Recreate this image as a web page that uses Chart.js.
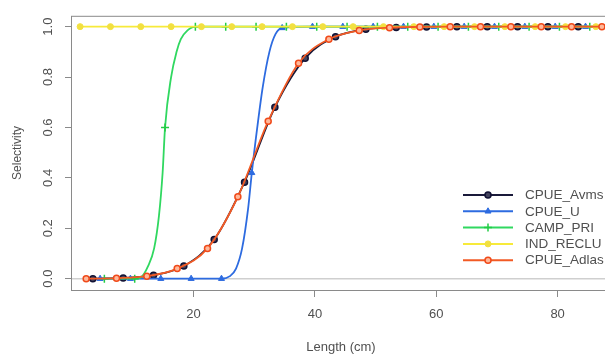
<!DOCTYPE html>
<html>
<head>
<meta charset="utf-8">
<script src="https://cdn.jsdelivr.net/npm/chart.js@4.4.0/dist/chart.umd.min.js"></script>
<style>
html, body { margin: 0; padding: 0; background: #fff; overflow: hidden; }
#wrap { width: 605px; height: 358px; overflow: hidden; }
#box { width: 625px; height: 358px; }
</style>
</head>
<body>
<div id="wrap"><div id="box"><canvas id="chart"></canvas></div></div>
<script>
// tick labels
const xTicks = [20, 40, 60, 80];
const yTicks = [0, 0.2, 0.4, 0.6, 0.8, 1.0];

// CPUE_Avms (markers)
const avmsLen = [3.4, 8.4, 13.4, 18.4, 23.4, 28.4, 33.4, 38.4, 43.4, 48.4, 53.4, 58.4, 63.4, 68.4, 73.4, 78.4, 83.4, 88.4];
const avmsSel = [0, 0.003, 0.014, 0.05, 0.155, 0.383, 0.68, 0.875, 0.96, 0.99, 0.997, 0.999, 1, 1, 1, 1, 1, 1];

// CPUE_U (markers + extra readings along the curve)
const uLen = [4.6, 9.6, 14.6, 19.6, 24.6, 29.6, 34.6, 39.6, 44.6, 49.6, 54.6, 59.6, 64.6, 69.6, 74.6, 79.6, 84.6];
const uSel = [0, 0, 0, 0, 0, 0.42, 0.995, 1, 1, 1, 1, 1, 1, 1, 1, 1, 1];
const uCurveLen = [26, 27, 28, 29, 30.5, 31.4, 32.5, 33.5];
const uCurveSel = [0.01, 0.04, 0.12, 0.28, 0.6, 0.76, 0.9, 0.97];

// CAMP_PRI
const priLen = [5.3, 10.3, 15.3, 20.3, 25.3, 30.3, 35.3, 40.3, 45.3, 50.3, 55.3, 60.3, 65.3, 70.3, 75.3, 80.3, 85.3];
const priSel = [0, 0, 0.6, 1, 1, 1, 1, 1, 1, 1, 1, 1, 1, 1, 1, 1, 1];
const priCurveLen = [11.3, 12.5, 13.5, 14.3, 14.9, 16.3, 17.2, 17.9, 19];
const priCurveSel = [0.005, 0.05, 0.12, 0.25, 0.42, 0.8, 0.9, 0.95, 0.985];

// IND_RECLU
const recluLen = [1.3, 6.3, 11.3, 16.3, 21.3, 26.3, 31.3, 36.3, 41.3, 46.3, 51.3, 56.3, 61.3, 66.3, 71.3, 76.3, 81.3, 86.3];
const recluSel = [1, 1, 1, 1, 1, 1, 1, 1, 1, 1, 1, 1, 1, 1, 1, 1, 1, 1];

// CPUE_Adlas
const adlasLen = [2.3, 7.3, 12.3, 17.3, 22.3, 27.3, 32.3, 37.3, 42.3, 47.3, 52.3, 57.3, 62.3, 67.3, 72.3, 77.3, 82.3, 87.3];
const adlasSel = [0, 0.002, 0.01, 0.04, 0.12, 0.325, 0.625, 0.855, 0.95, 0.985, 0.996, 0.999, 1, 1, 1, 1, 1, 1];

const legendNames = ["CPUE_Avms", "CPUE_U", "CAMP_PRI", "IND_RECLU", "CPUE_Adlas"];

function buildSeries(lens, sels, extraLens, extraSels) {
    const pts = lens.map((x, i) => ({ x: x, y: sels[i], m: true }));
    (extraLens || []).forEach((x, i) => pts.push({ x: x, y: extraSels[i], m: false }));
    return pts.sort((a, b) => a.x - b.x);
}

function series(label, data, line, style, radius, bg, border, bw) {
    return {
        label: label,
        data: data,
        borderColor: line,
        borderWidth: 1.8,
        cubicInterpolationMode: "monotone",
        pointStyle: style,
        pointRadius: ctx => (ctx.raw && ctx.raw.m ? radius : 0),
        pointBackgroundColor: bg,
        pointBorderColor: border,
        pointBorderWidth: bw,
        legendRadius: radius,
        clip: false
    };
}

// drawn last = on top, so the first dataset here is the top one
const datasets = [
    series("CPUE_Adlas", buildSeries(adlasLen, adlasSel), "#f25a24", "circle", 3, "#ffb89a", "#f04a1a", 1.5),
    series("IND_RECLU", buildSeries(recluLen, recluSel), "#f7ea3a", "circle", 3, "#f2e040", "#f2e040", 1),
    series("CAMP_PRI", buildSeries(priLen, priSel, priCurveLen, priCurveSel), "#30d860", "cross", 4, "#22cc44", "#22cc44", 1.5),
    series("CPUE_U", buildSeries(uLen, uSel, uCurveLen, uCurveSel), "#2d6be0", "triangle", 3.5, "#2d6be0", "#2d6be0", 1),
    series("CPUE_Avms", buildSeries(avmsLen, avmsSel), "#1a1a3a", "circle", 3, "#44445e", "#111133", 1.5)
];

const frameColor = "#8a8a8a";
const textColor = "#505050";

const framePlugin = {
    id: "frame",
    beforeDatasetsDraw(chart) {
        const c = chart.ctx;
        const a = chart.chartArea;
        const y0 = chart.scales.y.getPixelForValue(0);
        c.save();
        c.strokeStyle = "#cfcfcf";
        c.lineWidth = 1.5;
        c.beginPath();
        c.moveTo(a.left, y0);
        c.lineTo(a.right, y0);
        c.stroke();
        c.strokeStyle = frameColor;
        c.lineWidth = 1;
        c.strokeRect(a.left + 0.5, a.top + 0.5, a.right - a.left, a.bottom - a.top);
        c.restore();
    }
};

const legendPlugin = {
    id: "rLegend",
    afterDatasetsDraw(chart) {
        const c = chart.ctx;
        c.save();
        legendNames.forEach((name, i) => {
            const ds = chart.data.datasets.find(d => d.label === name);
            const y = 195 + i * 16.3;
            c.strokeStyle = ds.borderColor;
            c.lineWidth = 2;
            c.beginPath();
            c.moveTo(463, y);
            c.lineTo(513, y);
            c.stroke();
            c.fillStyle = ds.pointBackgroundColor;
            c.strokeStyle = ds.pointBorderColor;
            c.lineWidth = ds.pointBorderWidth;
            Chart.helpers.drawPoint(c, {
                pointStyle: ds.pointStyle,
                radius: ds.legendRadius,
                rotation: 0,
                borderWidth: ds.pointBorderWidth
            }, 488, y);
            c.fillStyle = textColor;
            c.font = "13.5px 'Liberation Sans', Arial, sans-serif";
            c.textBaseline = "middle";
            c.textAlign = "left";
            c.fillText(name, 525, y + 0.5);
        });
        c.restore();
    }
};

new Chart(document.getElementById("chart"), {
    type: "line",
    data: { datasets: datasets },
    options: {
        responsive: true,
        maintainAspectRatio: false,
        animation: false,
        layout: { padding: { top: 11, left: 0, right: 14, bottom: 0 } },
        plugins: { legend: { display: false }, tooltip: { enabled: false } },
        scales: {
            x: {
                type: "linear",
                min: -0.2,
                max: 88.8,
                afterBuildTicks: s => { s.ticks = xTicks.map(v => ({ value: v })); },
                afterFit: s => { s.height = 68; },
                grid: { drawOnChartArea: false, tickLength: 7, tickColor: frameColor },
                border: { display: false },
                ticks: {
                    color: textColor,
                    padding: 10,
                    maxRotation: 0,
                    font: { family: "'Liberation Sans', Arial, sans-serif", size: 13 }
                },
                title: {
                    display: true,
                    text: "Length (cm)",
                    color: textColor,
                    padding: { top: 0, bottom: 3 },
                    font: { family: "'Liberation Sans', Arial, sans-serif", size: 13 }
                }
            },
            y: {
                min: -0.045,
                max: 1.043,
                afterBuildTicks: s => { s.ticks = yTicks.map(v => ({ value: v })); },
                afterFit: s => { s.width = 71; },
                grid: { drawOnChartArea: false, tickLength: 6, tickColor: frameColor },
                border: { display: false },
                ticks: {
                    color: textColor,
                    padding: 8,
                    minRotation: 90,
                    maxRotation: 90,
                    crossAlign: "center",
                    callback: v => v.toFixed(1),
                    font: { family: "'Liberation Sans', Arial, sans-serif", size: 13 }
                },
                title: {
                    display: true,
                    text: "Selectivity",
                    color: textColor,
                    padding: { top: 10, bottom: 0 },
                    font: { family: "'Liberation Sans', Arial, sans-serif", size: 12 }
                }
            }
        }
    },
    plugins: [framePlugin, legendPlugin]
});
</script>
</body>
</html>
